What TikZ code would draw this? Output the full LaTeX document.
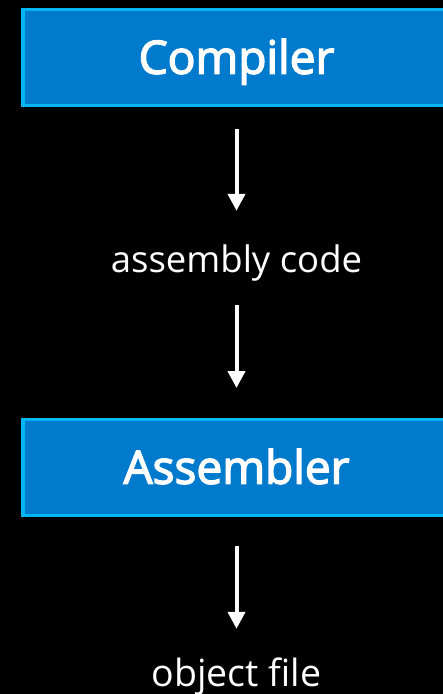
\documentclass[tikz,border=0pt]{standalone}
\usepackage{fontspec}
\setmainfont{Open Sans}
\newfontfamily\stagefont[FakeBold=3]{Open Sans}
\usetikzlibrary{arrows.meta}
\definecolor{boxfill}{RGB}{0,122,204}
\definecolor{boxedge}{RGB}{0,183,245}
\begin{document}
\begin{tikzpicture}[x=1pt,y=-1pt,
  stage/.style={draw=boxedge, fill=boxfill, line width=3.5pt,
    minimum width=427.5pt, minimum height=96pt, inner sep=0pt,
    text=white, font=\stagefont\fontsize{46}{46}\selectfont,
    text height=34pt, text depth=1pt},
  product/.style={text=white, font=\fontsize{36.5}{36.5}\selectfont,
    inner sep=0pt, text height=24pt, text depth=7pt, anchor=base},
  flow/.style={-{Triangle[width=17pt,length=17pt]}, white, line width=4pt}]
  % black page
  \fill[black] (0,0) rectangle (443,694);
  \useasboundingbox (0,0) rectangle (443,694);

  % stages and what they produce
  \node[stage]   (compiler)  at (236.5,57.25)  {Compiler};
  \node[product] (asmcode)   at (236.5,272)    {assembly code};
  \node[stage]   (assembler) at (236.5,467.25) {Assembler};
  \node[product, font=\fontsize{37.5}{37.5}\selectfont] (objfile) at (236.5,686) {object file};

  % flow arrows
  \draw[flow, shorten <=22pt, shorten >=37pt]   (compiler.south)  -- (asmcode.north);
  \draw[flow, shorten <=26pt, shorten >=29.5pt] (asmcode.south)   -- (assembler.north);
  \draw[flow, shorten <=29pt, shorten >=33pt]   (assembler.south) -- (objfile.north);
\end{tikzpicture}
\end{document}
